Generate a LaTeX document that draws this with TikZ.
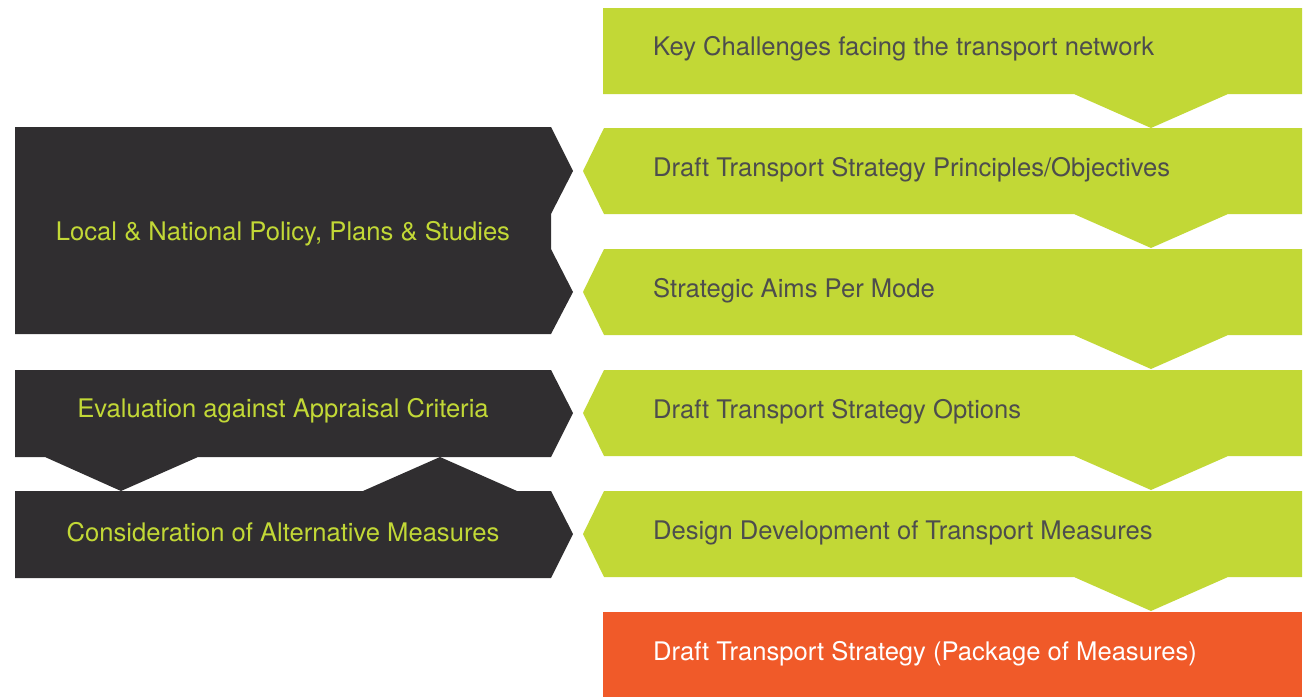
\documentclass[tikz,border=0pt]{standalone}
\usepackage{fontspec}
\setmainfont{TeX Gyre Heros}
\definecolor{stratgreen}{RGB}{194,216,54}
\definecolor{stratdark}{RGB}{48,46,48}
\definecolor{stratorange}{RGB}{240,90,41}
\definecolor{stratgrey}{RGB}{77,77,77}

\begin{document}
\begin{tikzpicture}[x=1pt,y=-1pt,
    steptext/.style={anchor=west,text=stratgrey,inner sep=0pt,font=\fontsize{25.6}{30}\selectfont},
    inputtext/.style={text=stratgreen,inner sep=0pt,font=\fontsize{25.6}{30}\selectfont}]
  \useasboundingbox (0,0) rectangle (1308,696);
  % green steps
  \fill[stratgreen] (603,8) -- (1302,8) -- (1302,94) -- (1228,94) -- (1151,128) -- (1074,94) -- (603,94) -- cycle;
  \foreach \t in {128,249,370,491}
    \fill[stratgreen] (604,\t) -- (1302,\t) -- (1302,\t+86) -- (1228,\t+86) -- (1151,\t+120)
      -- (1074,\t+86) -- (604,\t+86) -- (583,\t+43) -- cycle;
  \fill[stratorange] (603,612) rectangle (1302,698);
  % dark inputs
  \fill[stratdark] (15,127) -- (551,127) -- (573,171) -- (551,214) -- (551,249) -- (573,292)
    -- (551,334) -- (15,334) -- cycle;
  \fill[stratdark] (15,370) -- (551,370) -- (573,413) -- (551,457) -- (198,457) -- (121,491)
    -- (45,457) -- (15,457) -- cycle;
  \fill[stratdark] (15,491) -- (363,491) -- (440,457) -- (517,491) -- (551,491) -- (573,534)
    -- (551,578) -- (15,578) -- cycle;
  % labels
  \node[steptext] (challenges) at (653,49) {Key Challenges facing the transport network};
  \node[steptext] (principles) at (653,170) {Draft Transport Strategy Principles/Objectives};
  \node[steptext] (aims) at (653,291) {Strategic Aims Per Mode};
  \node[steptext] (options) at (653,412) {Draft Transport Strategy Options};
  \node[steptext] (design) at (653,533) {Design Development of Transport Measures};
  \node[steptext,text=white] (strategy) at (653,654) {Draft Transport Strategy (Package of Measures)};
  \node[inputtext] (policy) at (283,234) {Local \& National Policy, Plans \& Studies};
  \node[inputtext] (evaluation) at (283,411) {Evaluation against Appraisal Criteria};
  \node[inputtext] (alternatives) at (283,532) {Consideration of Alternative Measures};
\end{tikzpicture}
\end{document}
